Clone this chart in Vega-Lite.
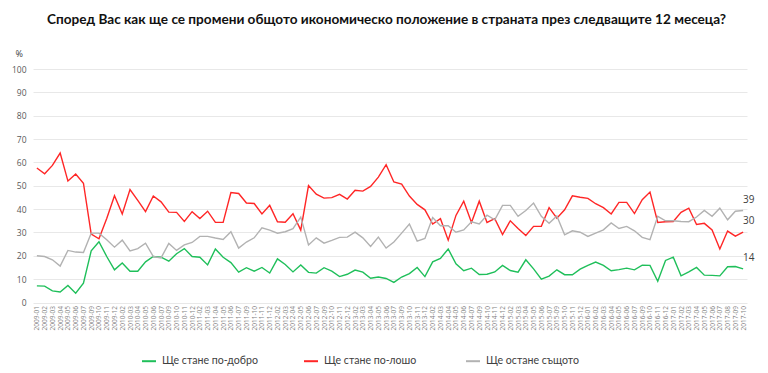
{
  "$schema": "https://vega.github.io/schema/vega-lite/v6.json",
  "width": 714,
  "height": 233.5,
  "autosize": {"type": "none"},
  "padding": {"left": 33, "top": 69, "right": 21, "bottom": 70},
  "background": "white",
  "title": {
    "text": "Според Вас как ще се промени общото икономическо положение в страната през следващите 12 месеца?",
    "anchor": "start",
    "frame": "group",
    "dx": 14,
    "offset": 22,
    "font": "Lato",
    "fontSize": 13.6,
    "fontWeight": "bold",
    "color": "#111111"
  },
  "datasets": {
    "series": [
      {"k": "g", "name": "Ще стане по-добро"},
      {"k": "r", "name": "Ще стане по-лошо"},
      {"k": "s", "name": "Ще остане същото"}
    ]
  },
  "data": {
    "values": [
      {"m": "2009-01", "g": 7.1, "r": 57.6, "s": 20},
      {"m": "2009-02", "g": 7, "r": 55.1, "s": 19.7},
      {"m": "2009-03", "g": 5, "r": 58.7, "s": 18.3},
      {"m": "2009-04", "g": 4.5, "r": 64, "s": 15.6},
      {"m": "2009-05", "g": 7.3, "r": 52, "s": 22.3},
      {"m": "2009-06", "g": 4, "r": 55, "s": 21.6},
      {"m": "2009-07", "g": 8.3, "r": 51.1, "s": 21.4},
      {"m": "2009-09", "g": 22.1, "r": 29.3, "s": 29.7},
      {"m": "2009-10", "g": 26, "r": 27.3, "s": 29.7},
      {"m": "2009-11", "g": 19.7, "r": 36, "s": 26.9},
      {"m": "2009-12", "g": 14, "r": 45.7, "s": 23.7},
      {"m": "2010-02", "g": 16.9, "r": 37.9, "s": 26.7},
      {"m": "2010-03", "g": 13.4, "r": 48.4, "s": 22.1},
      {"m": "2010-04", "g": 13.4, "r": 43.7, "s": 23.1},
      {"m": "2010-05", "g": 17.4, "r": 38.9, "s": 25.4},
      {"m": "2010-06", "g": 19.7, "r": 45.6, "s": 19.7},
      {"m": "2010-07", "g": 19.4, "r": 43.1, "s": 19.1},
      {"m": "2010-09", "g": 17.7, "r": 38.7, "s": 25.3},
      {"m": "2010-10", "g": 20.9, "r": 38.6, "s": 22.3},
      {"m": "2010-11", "g": 23.1, "r": 34.7, "s": 24.7},
      {"m": "2010-12", "g": 19.7, "r": 38.9, "s": 25.7},
      {"m": "2011-02", "g": 19.4, "r": 36, "s": 28.3},
      {"m": "2011-03", "g": 16.1, "r": 39.1, "s": 28.3},
      {"m": "2011-04", "g": 22.9, "r": 34.3, "s": 27.6},
      {"m": "2011-05", "g": 19.4, "r": 34.3, "s": 27},
      {"m": "2011-06", "g": 17.1, "r": 47.1, "s": 30.3},
      {"m": "2011-07", "g": 13, "r": 46.7, "s": 23.3},
      {"m": "2011-09", "g": 14.9, "r": 42.6, "s": 25.9},
      {"m": "2011-10", "g": 13.4, "r": 42.4, "s": 27.7},
      {"m": "2011-11", "g": 15, "r": 37.9, "s": 32},
      {"m": "2011-12", "g": 12.6, "r": 41.6, "s": 31},
      {"m": "2012-02", "g": 18.7, "r": 34.6, "s": 29.7},
      {"m": "2012-03", "g": 16.3, "r": 34.4, "s": 30.3},
      {"m": "2012-04", "g": 13.1, "r": 38, "s": 31.6},
      {"m": "2012-05", "g": 16.1, "r": 31, "s": 36.6},
      {"m": "2012-06", "g": 12.9, "r": 50.1, "s": 24.6},
      {"m": "2012-07", "g": 12.6, "r": 46.4, "s": 27.7},
      {"m": "2012-09", "g": 14.9, "r": 44.7, "s": 25.4},
      {"m": "2012-10", "g": 13.4, "r": 44.9, "s": 26.6},
      {"m": "2012-11", "g": 11.1, "r": 46.3, "s": 27.9},
      {"m": "2012-12", "g": 12.1, "r": 44.3, "s": 28},
      {"m": "2013-02", "g": 13.9, "r": 48.1, "s": 30.1},
      {"m": "2013-03", "g": 13, "r": 47.7, "s": 27.7},
      {"m": "2013-04", "g": 10.4, "r": 49.7, "s": 24},
      {"m": "2013-05", "g": 10.9, "r": 53.7, "s": 28},
      {"m": "2013-06", "g": 10.3, "r": 59, "s": 23.3},
      {"m": "2013-07", "g": 8.6, "r": 51.6, "s": 25.9},
      {"m": "2013-09", "g": 10.9, "r": 50.7, "s": 29.7},
      {"m": "2013-10", "g": 12.4, "r": 45.6, "s": 33.6},
      {"m": "2013-11", "g": 15, "r": 42, "s": 26.3},
      {"m": "2013-12", "g": 11.1, "r": 39.7, "s": 27.4},
      {"m": "2014-02", "g": 17.4, "r": 33.6, "s": 36.4},
      {"m": "2014-03", "g": 18.9, "r": 35.9, "s": 32.9},
      {"m": "2014-04", "g": 22.9, "r": 26.7, "s": 32.9},
      {"m": "2014-05", "g": 16.6, "r": 37.3, "s": 30.1},
      {"m": "2014-06", "g": 13.6, "r": 43.4, "s": 31.1},
      {"m": "2014-07", "g": 14.7, "r": 34.3, "s": 34.6},
      {"m": "2014-09", "g": 12, "r": 43.4, "s": 33.6},
      {"m": "2014-10", "g": 12.1, "r": 34.3, "s": 37.4},
      {"m": "2014-11", "g": 13.1, "r": 35.9, "s": 35.4},
      {"m": "2014-12", "g": 15.9, "r": 29.1, "s": 41.6},
      {"m": "2015-02", "g": 13.7, "r": 35, "s": 41.6},
      {"m": "2015-03", "g": 13, "r": 31.7, "s": 36.9},
      {"m": "2015-04", "g": 18.3, "r": 28.7, "s": 39.4},
      {"m": "2015-05", "g": 14.4, "r": 32.6, "s": 42.6},
      {"m": "2015-06", "g": 10, "r": 32.6, "s": 36.9},
      {"m": "2015-07", "g": 11.3, "r": 40.6, "s": 33.9},
      {"m": "2015-09", "g": 14, "r": 36.1, "s": 37.1},
      {"m": "2015-10", "g": 11.9, "r": 39.7, "s": 29},
      {"m": "2015-11", "g": 11.9, "r": 45.7, "s": 30.7},
      {"m": "2015-12", "g": 14.3, "r": 45.1, "s": 30.1},
      {"m": "2016-01", "g": 15.9, "r": 44.6, "s": 28.3},
      {"m": "2016-02", "g": 17.3, "r": 42.3, "s": 29.7},
      {"m": "2016-03", "g": 15.9, "r": 40.6, "s": 31.1},
      {"m": "2016-04", "g": 13.6, "r": 37.9, "s": 34.1},
      {"m": "2016-05", "g": 14.1, "r": 42.9, "s": 31.7},
      {"m": "2016-06", "g": 14.7, "r": 42.9, "s": 32.6},
      {"m": "2016-07", "g": 14, "r": 38.1, "s": 30.7},
      {"m": "2016-09", "g": 16, "r": 44, "s": 27.9},
      {"m": "2016-10", "g": 15.9, "r": 47.3, "s": 26.9},
      {"m": "2016-11", "g": 9.1, "r": 34.3, "s": 36.9},
      {"m": "2016-12", "g": 18, "r": 34.6, "s": 35},
      {"m": "2017-01", "g": 19.4, "r": 34.7, "s": 35},
      {"m": "2017-02", "g": 11.4, "r": 38.6, "s": 34.7},
      {"m": "2017-03", "g": 13.1, "r": 40.4, "s": 34.6},
      {"m": "2017-04", "g": 15, "r": 33.4, "s": 36.6},
      {"m": "2017-05", "g": 11.7, "r": 33.9, "s": 39.4},
      {"m": "2017-06", "g": 11.6, "r": 31.1, "s": 36.9},
      {"m": "2017-07", "g": 11.4, "r": 22.9, "s": 40.4},
      {"m": "2017-08", "g": 15.3, "r": 30.6, "s": 35.4},
      {"m": "2017-09", "g": 15.4, "r": 28.4, "s": 39.1},
      {"m": "2017-10", "g": 14.4, "r": 30.1, "s": 39.4}
    ]
  },
  "transform": [
    {"fold": ["g", "r", "s"], "as": ["k", "value"]},
    {"lookup": "k", "from": {"data": {"name": "series"}, "key": "k", "fields": ["name"]}}
  ],
  "encoding": {
    "x": {
      "field": "m",
      "type": "ordinal",
      "sort": null,
      "scale": {"type": "point", "padding": 0.5},
      "axis": {
        "title": null,
        "labelAngle": -90,
        "labelFont": "Open Sans",
        "labelFontSize": 6.5,
        "labelColor": "#7f7f7f",
        "labelPadding": 3,
        "labelOverlap": false,
        "ticks": false,
        "domain": false,
        "grid": false
      }
    },
    "y": {
      "field": "value",
      "type": "quantitative",
      "scale": {"domain": [0, 100]},
      "axis": {
        "title": "%",
        "titleAngle": 0,
        "titleX": -18,
        "titleY": -16,
        "titleAlign": "left",
        "titleBaseline": "middle",
        "titleFont": "Open Sans",
        "titleFontSize": 9,
        "titleFontWeight": "normal",
        "titleColor": "#404040",
        "values": [0, 10, 20, 30, 40, 50, 60, 70, 80, 90, 100],
        "domain": false,
        "ticks": false,
        "labelPadding": 7,
        "labelFont": "Open Sans",
        "labelFontSize": 8.5,
        "labelColor": "#595959",
        "gridColor": "#e8e8e8",
        "gridWidth": 1
      }
    }
  },
  "layer": [
    {
      "mark": {"type": "line", "strokeWidth": 1.4},
      "encoding": {
        "color": {
          "field": "name",
          "type": "nominal",
          "scale": {
            "domain": ["Ще стане по-добро", "Ще стане по-лошо", "Ще остане същото"],
            "range": ["#1fbf5a", "#ff2626", "#b2b2b2"]
          },
          "legend": {
            "title": null,
            "orient": "none",
            "legendX": 108,
            "legendY": 284,
            "direction": "horizontal",
            "columns": 3,
            "gridAlign": "all",
            "columnPadding": 42,
            "symbolType": "stroke",
            "symbolSize": 196,
            "symbolStrokeWidth": 2,
            "labelFont": "Lato",
            "labelFontSize": 10.6,
            "labelColor": "#404040",
            "labelOffset": 5
          }
        }
      }
    },
    {
      "transform": [{"filter": "datum.m == '2017-10'"}],
      "mark": {"type": "text", "align": "left", "dy": -11, "font": "Open Sans", "fontSize": 10, "color": "#404040"},
      "encoding": {
        "text": {"field": "value", "type": "quantitative", "format": ".0f"}
      }
    }
  ],
  "config": {"view": {"stroke": null}}
}
